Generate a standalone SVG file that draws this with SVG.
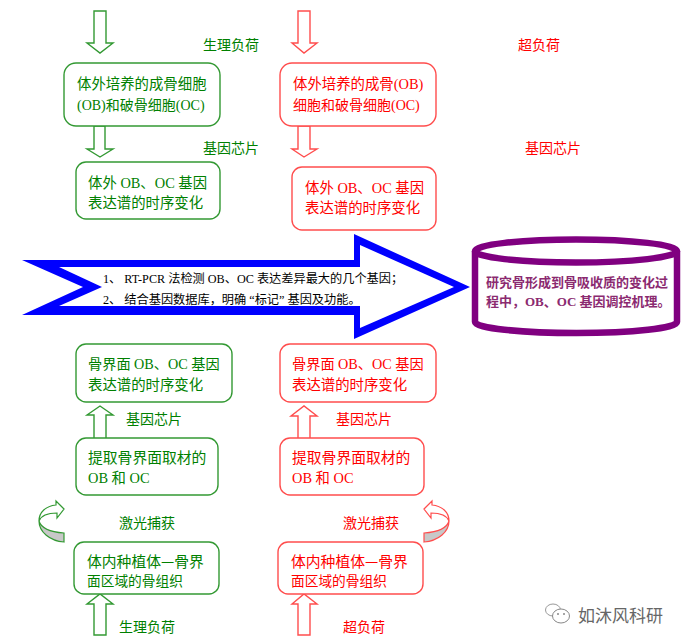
<svg xmlns="http://www.w3.org/2000/svg" width="684" height="644" viewBox="0 0 684 644">
<style>
text{font-family:"Liberation Serif","Noto Sans CJK SC",serif;font-size:14.4px}
.g{fill:#008000}.r{fill:#ff0000}
.gs{fill:#fff;stroke:#339933;stroke-width:1.4}
.rs{fill:#fff;stroke:#ff4d4d;stroke-width:1.4}
.lb{font-size:14px}
.t14{font-size:14px}
.t142{font-size:14.2px}
.t148{font-size:14.8px}
.t137{font-size:13.7px}
.cjk{font-family:"Noto Sans CJK SC",sans-serif}
.k{fill:#000;font-size:12.2px}
.p{fill:#8b2a70;font-size:13px;font-weight:bold}
.w{fill:#666;font-size:17px}
</style>
<defs>
<path id="curve-top" d="M64,509 L56,501 L56,505 C46,506 39,512 39,521 C41,516 48,513 57,513 L57,518 Z"/>
<path id="curve-band" d="M39,521 C39,532 50,541 64,542 L64,533 C50,532 41,528 39,521 Z"/>
</defs>
<g id="connectors">
<polygon class="gs" points="94,11 106,11 106,43 113,43 100,53 87,43 94,43"/>
<polygon class="gs" points="94,126 105,126 105,149 113,149 100,157 87,149 94,149"/>
<polygon class="rs" points="298,11 310,11 310,43 317,43 304,53 292,43 298,43"/>
<polygon class="rs" points="298,126 310,126 310,149 317,149 304,157 292,149 298,149"/>
<polygon class="gs" points="94,439 106,439 106,415 113,415 100,406 87,415 94,415"/>
<polygon class="rs" points="298,439 310,439 310,416 317,416 304,406 291,416 298,416"/>
<polygon class="gs" points="94,635 106,635 106,604 113,604 100,594 87,604 94,604"/>
<polygon class="rs" points="298,635 310,635 310,604 317,604 304,594 292,604 298,604"/>
<g id="curve-green">
<use href="#curve-band" fill="#c8c8c8" stroke="#339933" stroke-width="1.2"/>
<use href="#curve-top" fill="#fff" stroke="#339933" stroke-width="1.2"/>
</g>
<g id="curve-red" transform="translate(488,0) scale(-1,1)">
<use href="#curve-band" fill="#c8c8c8" stroke="#ff4d4d" stroke-width="1.2"/>
<use href="#curve-top" fill="#fff" stroke="#ff4d4d" stroke-width="1.2"/>
</g>
</g>
<g id="load-labels">
<text class="g lb" x="203" y="50">生理负荷</text>
<text class="r lb" x="518" y="50">超负荷</text>
<text class="g lb" x="203" y="153">基因芯片</text>
<text class="r lb" x="525" y="153">基因芯片</text>
<text class="g lb" x="126" y="424">基因芯片</text>
<text class="r lb" x="336" y="424">基因芯片</text>
<text class="g lb" x="119" y="528">激光捕获</text>
<text class="r lb" x="343" y="528">激光捕获</text>
<text class="g lb" x="119" y="632">生理负荷</text>
<text class="r lb" x="343" y="632">超负荷</text>
</g>
<g id="n-g1"><rect class="gs" x="64" y="63" width="156" height="63" rx="12"/>
<text class="g" x="77" y="89">体外培养的成骨细胞</text><text class="g t14" x="77" y="110">(OB)和破骨细胞(OC)</text></g>
<g id="n-g2"><rect class="gs" x="76" y="162" width="144" height="57" rx="10"/>
<text class="g" x="88" y="188">体外 OB、OC 基因</text><text class="g" x="88" y="208">表达谱的时序变化</text></g>
<g id="n-r1"><rect class="rs" x="280" y="63" width="156" height="63" rx="12"/>
<text class="r" x="293" y="89">体外培养的成骨(OB)</text><text class="r t14" x="293" y="110">细胞和破骨细胞(OC)</text></g>
<g id="n-r2"><rect class="rs" x="292" y="167" width="144" height="63" rx="10"/>
<text class="r" x="305" y="193">体外 OB、OC 基因</text><text class="r" x="305" y="213">表达谱的时序变化</text></g>
<g id="n-arrow">
<polygon fill="#0000ff" points="22,260 354,260 354,234 470,287 354,339 354,315 22,315 83,287"/>
<polygon fill="#fff" points="59,267 360,267 360,245 454,287 360,328 360,306 59,306 102,287"/>
<text class="k" x="103" y="283">1、 RT-PCR 法检测 OB、OC 表达差异最大的几个基因；</text>
<text class="k" x="103" y="304">2、 结合基因数据库，明确 “标记” 基因及功能。</text>
</g>
<g id="n-cyl">
<path d="M475,251 V322 C475,328 520,333 576.500,333 C633,333 677,328 677,322 V251" fill="#fff" stroke="#800080" stroke-width="6.500"/>
<ellipse cx="576" cy="251" rx="101" ry="11.500" fill="#fff" stroke="#800080" stroke-width="6.500"/>
<text class="p" x="486" y="287">研究骨形成到骨吸收质的变化过</text>
<text class="p" x="486" y="306">程中，OB、OC 基因调控机理。</text>
</g>
<g id="n-g3"><rect class="gs" x="76" y="344" width="156" height="58" rx="10"/>
<text class="g t142" x="88" y="369">骨界面 OB、OC 基因</text><text class="g" x="88" y="390">表达谱的时序变化</text></g>
<g id="n-r3"><rect class="rs" x="280" y="344" width="156" height="58" rx="10"/>
<text class="r t142" x="292" y="369">骨界面 OB、OC 基因</text><text class="r" x="292" y="390">表达谱的时序变化</text></g>
<g id="n-g4"><rect class="gs" x="76" y="438" width="142" height="57" rx="10"/>
<text class="g t148" x="88" y="463">提取骨界面取材的</text><text class="g" x="88" y="483">OB 和 OC</text></g>
<g id="n-r4"><rect class="rs" x="280" y="438" width="144" height="57" rx="10"/>
<text class="r t148" x="292" y="463">提取骨界面取材的</text><text class="r" x="292" y="483">OB 和 OC</text></g>
<g id="n-g5"><rect class="gs" x="74" y="542" width="145" height="52" rx="10"/>
<text class="g cjk t148" x="87" y="567">体内种植体—骨界</text><text class="g t137" x="87" y="586">面区域的骨组织</text></g>
<g id="n-r5"><rect class="rs" x="278" y="542" width="145" height="52" rx="10"/>
<text class="r cjk t148" x="291" y="567">体内种植体—骨界</text><text class="r t137" x="291" y="586">面区域的骨组织</text></g>
<g id="watermark">
<ellipse cx="553" cy="610" rx="7.500" ry="6" fill="#fff" stroke="#999" stroke-width="1"/>
<ellipse cx="561" cy="616" rx="8.500" ry="7" fill="#fff" stroke="#888" stroke-width="1"/>
<circle cx="558" cy="614" r="1" fill="#888"/><circle cx="564" cy="614" r="1" fill="#888"/>
<text class="w" x="578" y="622">如沐风科研</text>
</g>
</svg>
